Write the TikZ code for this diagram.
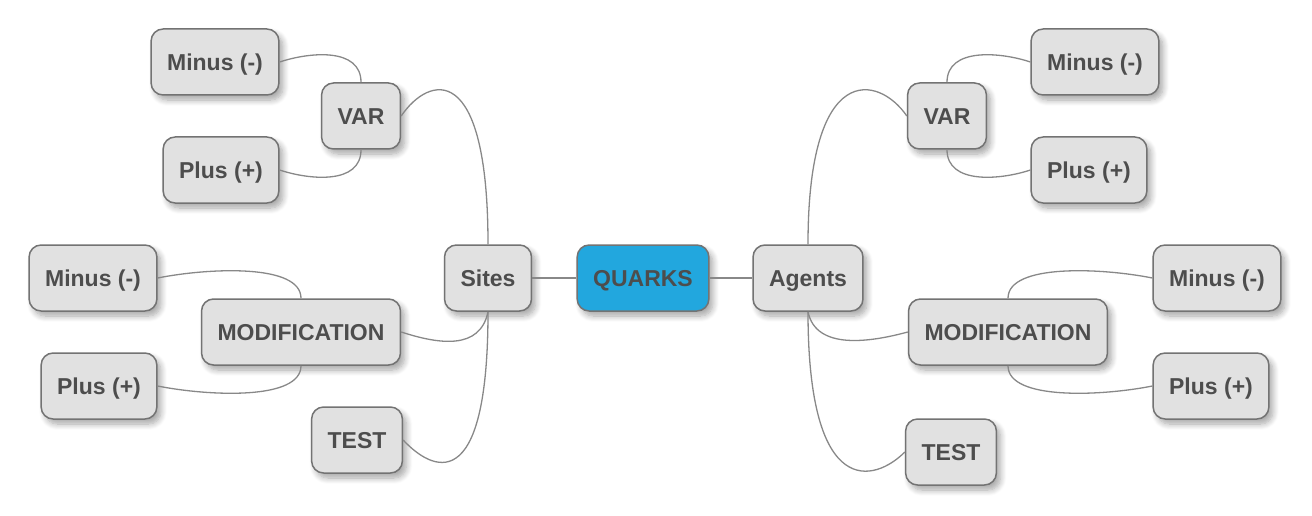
\documentclass[tikz,border=0pt]{standalone}
\usepackage{fontspec}
\setmainfont{Liberation Sans}
\usetikzlibrary{shadows.blur}
\definecolor{bordc}{HTML}{737373}
\definecolor{boxfill}{HTML}{E1E1E1}
\definecolor{txt}{HTML}{4D4D4D}
\definecolor{linec}{HTML}{888888}
\definecolor{qblue}{HTML}{22A7DE}
\begin{document}
\begin{tikzpicture}[x=1pt,y=-1pt,
  box/.style={draw=bordc, line width=1.5pt, fill=boxfill, rounded corners=12pt,
    minimum height=66pt, inner xsep=16pt, inner ysep=0pt,
    text height=20pt, text depth=3.5pt,
    font=\fontsize{23}{27}\selectfont\bfseries, text=txt,
    blur shadow={shadow xshift=4pt, shadow yshift=-5pt, shadow opacity=35,
      shadow blur radius=6pt, shadow blur steps=8}},
  link/.style={draw=linec, line width=1.3pt}]
\useasboundingbox (0,0) rectangle (1312,516);
% nodes
\node[box, fill=qblue] (quarks) at (643,278) {QUARKS};
\node[box] (sites) at (488,278) {Sites};
\node[box] (agents) at (808,278) {Agents};
\node[box] (varL) at (361,116) {VAR};
\node[box] (minL1) at (215,62) {Minus (-)};
\node[box] (plusL1) at (221,170) {Plus (+)};
\node[box] (modL) at (301,332) {MODIFICATION};
\node[box] (minL2) at (93,278) {Minus (-)};
\node[box] (plusL2) at (99,386) {Plus (+)};
\node[box] (testL) at (357,440) {TEST};
\node[box] (varR) at (947,116) {VAR};
\node[box] (minR1) at (1095,62) {Minus (-)};
\node[box] (plusR1) at (1089,170) {Plus (+)};
\node[box] (modR) at (1008,332) {MODIFICATION};
\node[box] (minR2) at (1217,278) {Minus (-)};
\node[box] (plusR2) at (1211,386) {Plus (+)};
\node[box] (testR) at (951,452) {TEST};
% links
\draw[link] (sites) -- (quarks);
\draw[link] (quarks) -- (agents);
\draw[link] (sites.north) .. controls +(0,-185) and +(28,-41) .. (varL.east);
\draw[link] (sites.south) .. controls +(-8,39) and +(37,12) .. (modL.east);
\draw[link] (sites.south) .. controls +(0,189) and +(28,30) .. (testL.east);
\draw[link] (varL.north) .. controls +(0,-35) and +(30,-10) .. (minL1.east);
\draw[link] (varL.south) .. controls +(0,35) and +(30,10) .. (plusL1.east);
\draw[link] (modL.north) .. controls +(0,-35) and +(50,-10) .. (minL2.east);
\draw[link] (modL.south) .. controls +(0,35) and +(50,10) .. (plusL2.east);
\draw[link] (agents.north) .. controls +(0,-185) and +(-28,-41) .. (varR.west);
\draw[link] (agents.south) .. controls +(8,39) and +(-37,10) .. (modR.west);
\draw[link] (agents.south) .. controls +(0,190) and +(-30,30) .. (testR.west);
\draw[link] (varR.north) .. controls +(0,-35) and +(-30,-10) .. (minR1.west);
\draw[link] (varR.south) .. controls +(0,35) and +(-30,10) .. (plusR1.west);
\draw[link] (modR.north) .. controls +(0,-35) and +(-50,-10) .. (minR2.west);
\draw[link] (modR.south) .. controls +(0,35) and +(-50,10) .. (plusR2.west);
\end{tikzpicture}
\end{document}
